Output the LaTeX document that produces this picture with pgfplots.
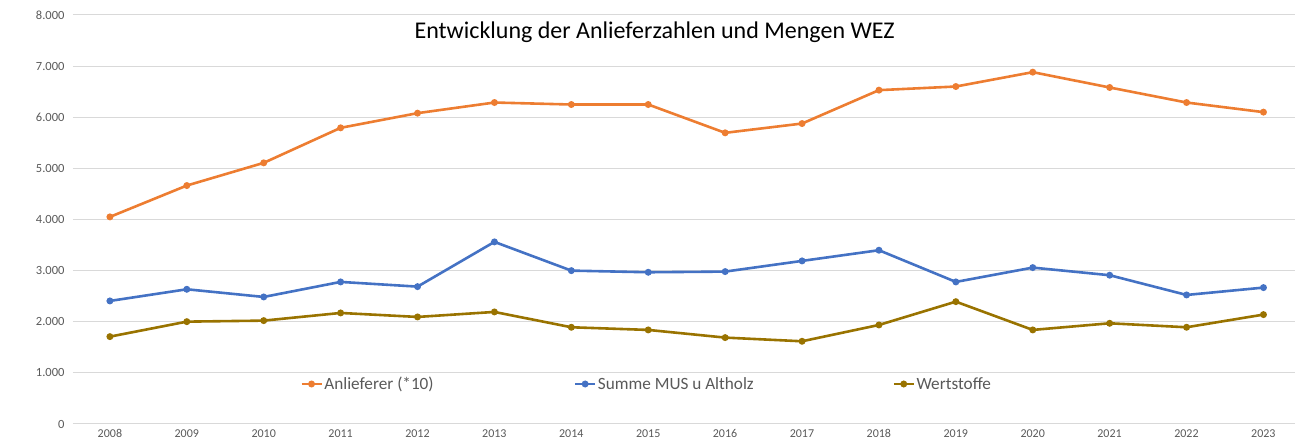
\documentclass[border=0pt]{standalone}
\usepackage{pgfplots}
\pgfplotsset{compat=1.18}
\usepackage{fontspec}
\setmainfont{Carlito}
\definecolor{cOrange}{HTML}{ED7D31}
\definecolor{cBlue}{HTML}{4472C4}
\definecolor{cGold}{HTML}{997300}
\definecolor{cGrid}{HTML}{D9D9D9}
\definecolor{cTick}{HTML}{595959}
\begin{document}
\begin{tikzpicture}[x=1pt,y=1pt]
\path[use as bounding box] (-73,-22) rectangle (1224,424);
\begin{axis}[
  at={(0,0)}, anchor=south west,
  scale only axis, width=1222pt, height=409pt,
  xmin=2007.52, xmax=2023.41, ymin=0, ymax=8000,
  axis line style={draw=none},
  tick style={draw=none},
  ymajorgrids, grid style={cGrid, line width=1pt},
  xtick={2008,...,2023},
  ytick={0,1000,...,8000},
  /pgf/number format/assume math mode=true,
  yticklabel style={/pgf/number format/.cd,1000 sep={.}, /tikz/.cd, font=\fontsize{12.5}{15}\selectfont, text=cTick, xshift=-5pt},
  xticklabel style={/pgf/number format/.cd,1000 sep={}, /tikz/.cd, font=\fontsize{12}{15}\selectfont, text=cTick, yshift=-2pt},
  legend columns=3,
  legend style={draw=none, fill=none, at={(rel axis cs:0.1858,0.0978)}, anchor=west,
    font=\fontsize{17.2}{19}\selectfont, text=cTick, column sep=0pt, inner sep=0pt,
    nodes={inner sep=1.5pt}},
  legend cell align=left,
  legend image code/.code={\draw[mark repeat=2,mark phase=2] plot coordinates {(0pt,0pt)(10pt,0pt)(20pt,0pt)};},
  every axis plot/.append style={line width=2.6pt, mark=*, mark size=2.1pt, mark options={solid}},
  clip=false,
]
\addplot[cOrange] coordinates {
(2008,4051)(2009,4664)(2010,5108)(2011,5793)(2012,6080)(2013,6288)(2014,6249)(2015,6249)
(2016,5695)(2017,5877)(2018,6530)(2019,6601)(2020,6882)(2021,6582)(2022,6288)(2023,6100)};
\addlegendentry{\makebox[248pt][l]{Anlieferer (*10)}}
\addplot[cBlue] coordinates {
(2008,2407)(2009,2635)(2010,2485)(2011,2779)(2012,2687)(2013,3562)(2014,3000)(2015,2968)
(2016,2981)(2017,3190)(2018,3399)(2019,2779)(2020,3059)(2021,2910)(2022,2524)(2023,2668)};
\addlegendentry{\makebox[293pt][l]{Summe MUS u Altholz}}
\addplot[cGold] coordinates {
(2008,1709)(2009,2002)(2010,2022)(2011,2172)(2012,2094)(2013,2192)(2014,1892)(2015,1840)
(2016,1690)(2017,1618)(2018,1937)(2019,2393)(2020,1840)(2021,1970)(2022,1892)(2023,2140)};
\addlegendentry{Wertstoffe}
\node[font=\fontsize{24}{28}\selectfont, text=black] at (rel axis cs:0.476,0.958) {Entwicklung der Anlieferzahlen und Mengen WEZ};
\end{axis}
\end{tikzpicture}
\end{document}
